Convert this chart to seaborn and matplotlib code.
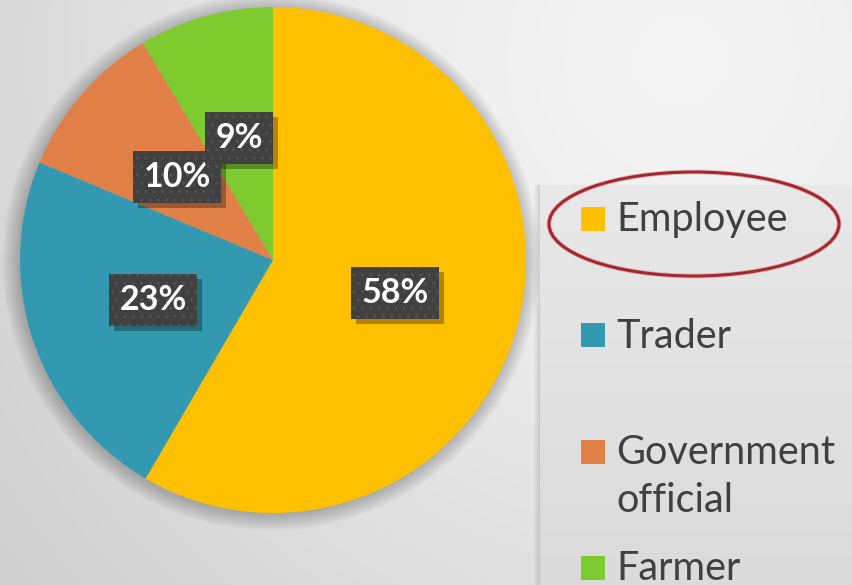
import numpy as np
import matplotlib.pyplot as plt
import matplotlib.patheffects as pe
from matplotlib.patches import Rectangle, Ellipse, Circle
from matplotlib.transforms import IdentityTransform
import seaborn as sns

##### occupation share pie, legend on the right with Employee circled #####

categories = ['Employee', 'Trader', 'Government\nofficial', 'Farmer']
shares = [58.4, 22.9, 10.1, 8.6]
colors = ['#FFC000', '#3399B0', '#E08047', '#7DCB2F']

sns.set_theme(style='white')
plt.rcParams['font.family'] = ['Lato', 'DejaVu Sans']
plt.rcParams['hatch.linewidth'] = 1.0

W, H = 852, 585
fig = plt.figure(figsize=(W / 100, H / 100), dpi=100)

# background in pixel coordinates
bg = fig.add_axes([0, 0, 1, 1])
yy, xx = np.mgrid[0:H, 0:W]
d = np.hypot(xx - 680, yy - 60)
grad = 0.96 - 0.16 * (d / 900) ** 1.3
bg.imshow(np.dstack([grad] * 3), extent=[0, W, H, 0], aspect='auto',
          interpolation='bilinear')

# legend panel
pan = np.linspace(0.912, 0.855, 400)[:, None] * np.ones((1, W - 540))
bg.imshow(np.dstack([pan] * 3), extent=[540, W, H, 185], aspect='auto')
for k in range(6):
    bg.add_patch(Rectangle((534 + k, 185), 1, 400, color='black', alpha=0.02 * (k + 1), lw=0))

# soft halo around the pie
for k in range(12):
    bg.add_patch(Circle((271, 262), 253 + k * 1.4, color='black', alpha=0.018, lw=0))

bg.set_xlim(0, W)
bg.set_ylim(H, 0)
bg.axis('off')

# legend entries (marker lines up with the first text line)
for i, (lab, col) in enumerate(zip(categories, colors)):
    yc = 219 + i * 116.3
    bg.add_patch(Rectangle((581, yc - 12), 24, 24, color=col, lw=0))
    for j, line in enumerate(lab.split('\n')):
        bg.text(616, yc + 12.5 + j * 48, line, fontsize=28.5, color='#404040',
                va='baseline', ha='left')

el = Ellipse((694, 224), 290, 104, fill=False, edgecolor='#A8262C', lw=2.2)
el.set_path_effects([pe.withStroke(linewidth=3.5, foreground='#C07070', alpha=0.35)])
bg.add_patch(el)

# pie
ax = fig.add_axes([20 / W, (H - 513) / H, 506 / W, 506 / H])
ax.set_facecolor('none')
wedges, texts, autotexts = ax.pie(
    shares, colors=colors, startangle=90, counterclock=False,
    autopct=lambda p: f'{p:.0f}%', pctdistance=0.5,
    wedgeprops=dict(linewidth=0))
ax.set_xlim(-1, 1)
ax.set_ylim(-1, 1)
ax.set_aspect('auto')
ax.axis('off')

for t in autotexts:
    t.set_zorder(3)
    t.set_color('white')
    t.set_fontsize(24.5)
    t.set_fontweight('bold')
    t.set_bbox(dict(boxstyle='square,pad=0.3', facecolor='#404040',
                    edgecolor='#525252', linewidth=0, hatch='..'))

# drop shadow behind each label box
fig.canvas.draw()
for t in autotexts:
    bb = t.get_bbox_patch().get_window_extent()
    ax.add_patch(Rectangle((bb.x0 + 5, bb.y0 - 5), bb.width, bb.height,
                           transform=IdentityTransform(), facecolor='black',
                           alpha=0.3, lw=0, zorder=2))

fig.savefig('out.png', dpi=100)
